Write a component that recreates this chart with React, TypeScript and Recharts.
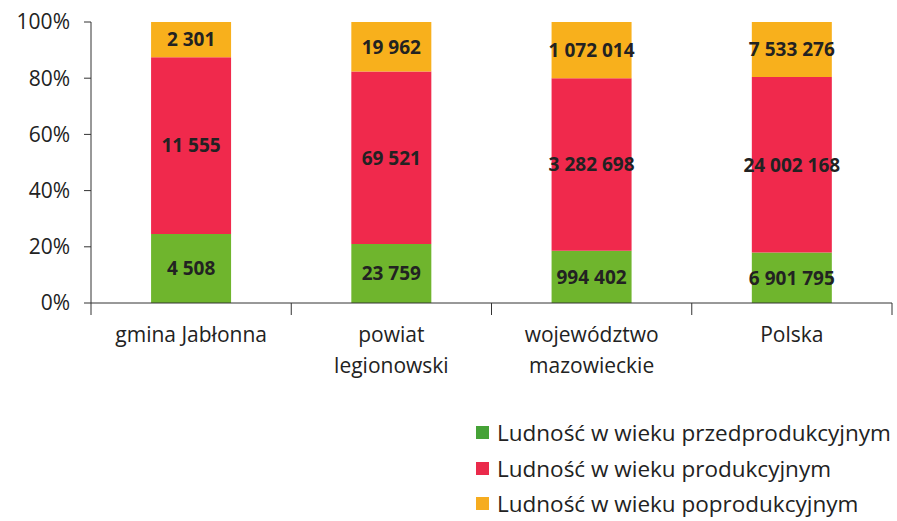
import { BarChart, Bar, XAxis, YAxis, LabelList, Legend } from 'recharts';

// categories and population counts by age group
const categories = ['gmina Jabłonna', 'powiat\nlegionowski', 'województwo\nmazowieckie', 'Polska'];
const preProductive = [4508, 23759, 994402, 6901795];
const productive = [11555, 69521, 3282698, 24002168];
const postProductive = [2301, 19962, 1072014, 7533276];
const yTicks = [0, 0.2, 0.4, 0.6, 0.8, 1];

const seriesNames = [
  'Ludność w wieku przedprodukcyjnym',
  'Ludność w wieku produkcyjnym',
  'Ludność w wieku poprodukcyjnym',
];
const colors = ['#6fb52d', '#f0294c', '#f8b01c'];
const legendColors = ['#45a236', '#ea2a4b', '#f6ac1f'];

const data = categories.map((name, i) => ({
  name,
  pre: preProductive[i],
  prod: productive[i],
  post: postProductive[i],
}));

const FONT = '"Open Sans", sans-serif';

// non-breaking space as thousands separator so the label stays on one line
const formatNumber = (v: any) =>
  String(v).replace(/\B(?=(\d{3})+(?!\d))/g, '\u00A0');

const CategoryTick = (props: any) => {
  const { x, y, payload, index } = props;
  const half = payload.offset || 100;
  const lines = String(payload.value).split('\n');
  return (
    <g>
      {index === 0 && <line x1={x - half} x2={x - half} y1={y - 12} y2={y} stroke="#333" />}
      <line x1={x + half} x2={x + half} y1={y - 12} y2={y} stroke="#333" />
      <text x={x} y={y} textAnchor="middle" fill="#222" fontSize={21} fontFamily={FONT}>
        {lines.map((l, i) => (
          <tspan key={i} x={x} dy={i === 0 ? 27 : 31}>
            {l}
          </tspan>
        ))}
      </text>
    </g>
  );
};

const LegendContent = () => (
  <div style={{ height: 106, fontFamily: FONT, fontSize: 22.5, color: '#222' }}>
    {seriesNames.map((n, i) => (
      <div key={n} style={{ display: 'flex', alignItems: 'center', height: 35.5, whiteSpace: 'nowrap' }}>
        <span
          style={{
            display: 'inline-block',
            width: 13,
            height: 13,
            background: legendColors[i],
            marginRight: 8,
          }}
        />
        {n}
      </div>
    ))}
  </div>
);

const labelProps = {
  position: 'center' as const,
  formatter: formatNumber,
  fill: '#222',
  fontSize: 19,
  fontWeight: 'bold',
  fontFamily: FONT,
};

const App = () => {
  return (
    <div style={{ position: 'absolute', left: 0, top: 0, background: '#fff' }}>
      <BarChart
        width={897}
        height={521}
        data={data}
        stackOffset="expand"
        barCategoryGap="30%"
        margin={{ top: 22, right: 5, left: 0, bottom: 32 }}
      >
        <XAxis
          dataKey="name"
          interval={0}
          axisLine={{ stroke: '#333' }}
          tickLine={false}
          tickSize={12}
          tickMargin={0}
          height={80}
          tick={<CategoryTick />}
        />
        <YAxis
          width={91}
          ticks={yTicks}
          domain={[0, 1]}
          tickFormatter={(v) => `${Math.round(v * 100)}%`}
          axisLine={{ stroke: '#333' }}
          tickLine={{ stroke: '#333' }}
          tickSize={7}
          tickMargin={14}
          tick={{ fill: '#222', fontSize: 21, fontFamily: FONT }}
        />
        <Legend
          layout="vertical"
          align="center"
          verticalAlign="bottom"
          content={<LegendContent />}
          wrapperStyle={{ left: 476, bottom: 0, width: 421 }}
        />
        <Bar dataKey="pre" name={seriesNames[0]} stackId="a" fill={colors[0]} isAnimationActive={false}>
          <LabelList dataKey="pre" {...labelProps} />
        </Bar>
        <Bar dataKey="prod" name={seriesNames[1]} stackId="a" fill={colors[1]} isAnimationActive={false}>
          <LabelList dataKey="prod" {...labelProps} />
        </Bar>
        <Bar dataKey="post" name={seriesNames[2]} stackId="a" fill={colors[2]} isAnimationActive={false}>
          <LabelList dataKey="post" {...labelProps} />
        </Bar>
      </BarChart>
    </div>
  );
};

export default App;
